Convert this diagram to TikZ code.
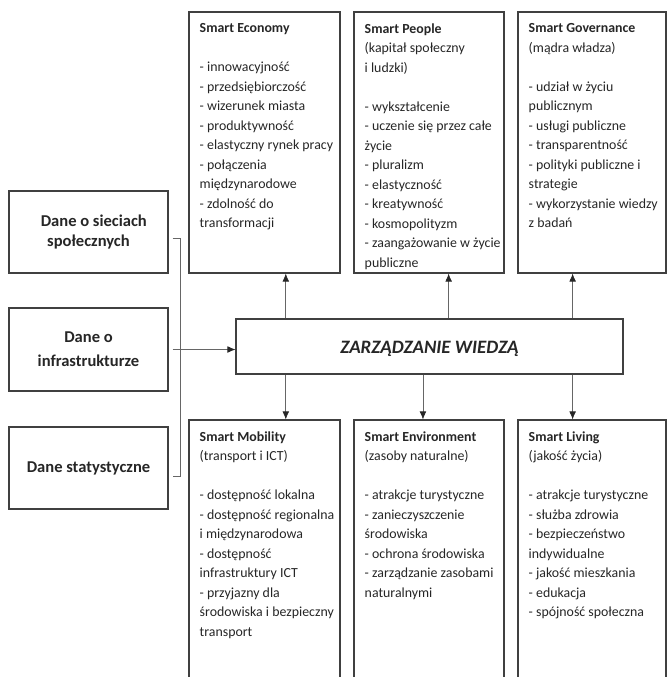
\documentclass[tikz,border=0pt]{standalone}
\usepackage{fontspec}
\setmainfont{Carlito}
\usetikzlibrary{arrows.meta,positioning,calc,fit}

\begin{document}
\begin{tikzpicture}
[x=0.75pt,y=-0.75pt,
frame/.style={draw=black!75,line width=0.8pt,inner sep=0pt},
datatext/.style={align=center,inner sep=0pt,text=black!85,font=\fontsize{12.4}{15}\selectfont\bfseries},
areatext/.style={anchor=north west,align=left,inner sep=0pt,text=black!85,font=\fontsize{10.4}{14.6}\selectfont},
link/.style={draw=black!60,line width=0.5pt},
dlink/.style={link,-{Latex[length=6pt,width=5pt,color=black!85]}}]
\useasboundingbox (0,0) rectangle (667,677);
\clip (0,0) rectangle (667,677);
%% data sources
\node (social) [frame,fit={(9,191) (168,273)}] {};
\node (infra) [frame,fit={(9,308) (168,391)}] {};
\node (stats) [frame,fit={(9,427) (168,509)}] {};
\node (socialtxt) [datatext] at (social) {\hspace*{8pt}Dane o sieciach\\społecznych};
\node (infratxt) [datatext] at (infra) {Dane o\\[3pt]infrastrukturze};
\node (statstxt) [datatext] at (stats) {Dane statystyczne};
%% knowledge management
\node (centre) [frame,fit={(236,319) (623,374)}] {};
\node (centretxt) [text=black!85,font=\fontsize{14.2}{17}\selectfont\bfseries\itshape]
  at ([yshift=-2pt]centre) {ZARZĄDZANIE WIEDZĄ};
%% upper areas
\node (econ) [frame,fit={(189,12) (340,273)}] {};
\node (people) [frame,fit={(354,12) (504,273)}] {};
\node (gov) [frame,fit={(518,12) (666,273)}] {};
\node (econtxt) [areatext] at ([shift={(11,12)}]econ.north west)
  {{\bfseries Smart Economy}\\ ~\\
  - innowacyjność\\
  - przedsiębiorczość\\
  - wizerunek miasta\\
  - produktywność\\
  - elastyczny rynek pracy\\
  - połączenia\\
  międzynarodowe\\
  - zdolność do\\
  transformacji};
\node (peopletxt) [areatext] at ([shift={(11,12)}]people.north west)
  {{\bfseries Smart People}\\
  (kapitał społeczny\\
  i ludzki)\\ ~\\
  - wykształcenie\\
  - uczenie się przez całe\\
  życie\\
  - pluralizm\\
  - elastyczność\\
  - kreatywność\\
  - kosmopolityzm\\
  - zaangażowanie w życie\\
  publiczne};
\node (govtxt) [areatext] at ([shift={(11,12)}]gov.north west)
  {{\bfseries Smart Governance}\\
  (mądra władza)\\ ~\\
  - udział w życiu\\
  publicznym\\
  - usługi publiczne\\
  - transparentność\\
  - polityki publiczne i\\
  strategie\\
  - wykorzystanie wiedzy\\
  z badań};
%% lower areas
\node (mobil) [frame,fit={(189,420) (340,700)}] {};
\node (envir) [frame,fit={(354,420) (504,700)}] {};
\node (living) [frame,fit={(518,420) (666,700)}] {};
\node (mobiltxt) [areatext] at ([shift={(11,12)}]mobil.north west)
  {{\bfseries Smart Mobility}\\
  (transport i ICT)\\ ~\\
  - dostępność lokalna\\
  - dostępność regionalna\\
  i międzynarodowa\\
  - dostępność\\
  infrastruktury ICT\\
  - przyjazny dla\\
  środowiska i bezpieczny\\
  transport};
\node (envirtxt) [areatext] at ([shift={(11,12)}]envir.north west)
  {{\bfseries Smart Environment}\\
  (zasoby naturalne)\\ ~\\
  - atrakcje turystyczne\\
  - zanieczyszczenie\\
  środowiska\\
  - ochrona środowiska\\
  - zarządzanie zasobami\\
  naturalnymi};
\node (livingtxt) [areatext] at ([shift={(11,12)}]living.north west)
  {{\bfseries Smart Living}\\
  (jakość życia)\\ ~\\
  - atrakcje turystyczne\\
  - służba zdrowia\\
  - bezpieczeństwo\\
  indywidualne\\
  - jakość mieszkania\\
  - edukacja\\
  - spójność społeczna};
%% connectors
\foreach \area/\pos in {econ/.64,people/.63,gov/.37}{
  \coordinate (pin) at ($(\area.south west)!\pos!(\area.south east)$);
  \draw[dlink] (centre.north -| pin) -- (pin);
}
\foreach \area/\pos in {mobil/.64,envir/.46,living/.37}{
  \coordinate (pin) at ($(\area.north west)!\pos!(\area.north east)$);
  \draw[dlink] (centre.south -| pin) -- (pin);
}
\draw[dlink] ([xshift=3pt]infra.east) -- (infra.east -| centre.west);
\draw[link] ([shift={(4,6)}]social.east) -- ++(8,0) |- ([shift={(4,8)}]stats.east);
\end{tikzpicture}
\end{document}
